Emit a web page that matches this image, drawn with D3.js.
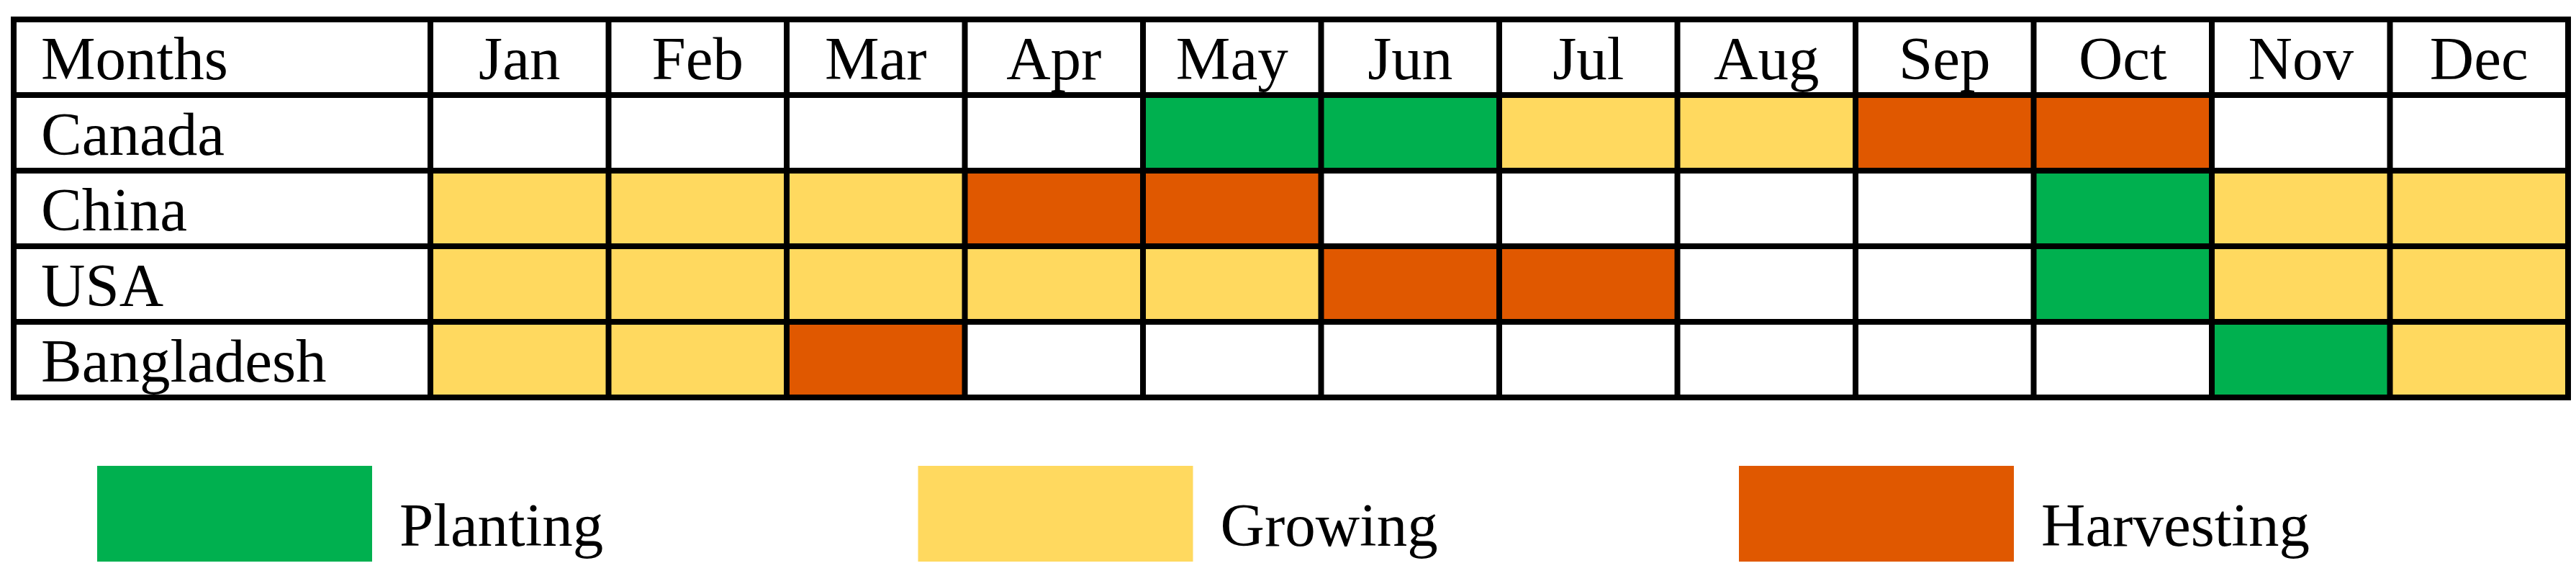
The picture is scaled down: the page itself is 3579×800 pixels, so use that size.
<!DOCTYPE html>
<html>
<head>
<meta charset="utf-8">
<script src="https://cdn.jsdelivr.net/npm/d3@7"></script>
<style>
  body { margin: 0; background: #fff; }
  text { font-family: "Liberation Serif", "DejaVu Serif", serif; }
</style>
</head>
<body>
<div id="chart"></div>
<script>
// Crop calendar data
var months = ["Jan", "Feb", "Mar", "Apr", "May", "Jun", "Jul", "Aug", "Sep", "Oct", "Nov", "Dec"];
var countries = ["Canada", "China", "USA", "Bangladesh"];
// P = planting, G = growing, H = harvesting, "" = nothing
var canada = ["", "", "", "", "P", "P", "G", "G", "H", "H", "", ""];
var china = ["G", "G", "G", "H", "H", "", "", "", "", "P", "G", "G"];
var usa = ["G", "G", "G", "G", "G", "H", "H", "", "", "P", "G", "G"];
var bangladesh = ["G", "G", "H", "", "", "", "", "", "", "", "P", "G"];
var stages = ["P", "G", "H"];
var stageNames = ["Planting", "Growing", "Harvesting"];

var rowsData = [canada, china, usa, bangladesh];
var width = 3579, height = 800;

var colors = d3.scaleOrdinal().domain(stages).range(["#00b04f", "#ffd95f", "#e05800"]);

var svg = d3.select("#chart").append("svg")
  .attr("width", width)
  .attr("height", height);

// Grid scales (note: "top" is a reserved window global, so gridTop)
var gridLeft = 19, labelRight = 598, gridRight = 3568;
var gridTop = 27, gridBottom = 552;
var x = d3.scaleBand().domain(months).range([labelRight, gridRight]);
var y = d3.scaleBand().domain(["Months"].concat(countries)).range([gridTop, gridBottom]);

// Cells
var cells = [];
countries.forEach(function(c, i) {
  months.forEach(function(m, j) {
    cells.push({country: c, month: m, stage: rowsData[i][j]});
  });
});

svg.append("g").selectAll("rect")
  .data(cells.filter(function(d) { return d.stage != ""; }))
  .enter().append("rect")
  .attr("x", function(d) { return x(d.month); })
  .attr("y", function(d) { return y(d.country); })
  .attr("width", x.bandwidth())
  .attr("height", y.bandwidth())
  .attr("fill", function(d) { return colors(d.stage); });

// Grid lines
var lines = svg.append("g").attr("stroke", "#000").attr("stroke-width", 8);
var vx = [gridLeft, labelRight].concat(months.slice(1).map(function(m) { return x(m); })).concat([gridRight]);
vx.forEach(function(v) {
  lines.append("line").attr("x1", v).attr("x2", v).attr("y1", gridTop - 4).attr("y2", gridBottom + 4);
});
var hy = y.domain().map(function(d) { return y(d); }).concat([gridBottom]);
hy.forEach(function(v) {
  lines.append("line").attr("x1", gridLeft - 4).attr("x2", gridRight + 4).attr("y1", v).attr("y2", v);
});

// Labels
var fontSize = 85;
svg.append("g").selectAll("text")
  .data(months).enter().append("text")
  .attr("x", function(d) { return x(d) + x.bandwidth() / 2; })
  .attr("y", y("Months") + y.bandwidth() / 2 + 30)
  .attr("text-anchor", "middle")
  .attr("font-size", fontSize)
  .text(function(d) { return d; });

svg.append("g").selectAll("text")
  .data(y.domain()).enter().append("text")
  .attr("x", 57)
  .attr("y", function(d) { return y(d) + y.bandwidth() / 2 + 30; })
  .attr("font-size", fontSize)
  .text(function(d) { return d; });

// Legend
var legend = svg.append("g").selectAll("g")
  .data(stages).enter().append("g")
  .attr("transform", function(d, i) { return "translate(" + (135 + i * 1140.5) + ",647)"; });
legend.append("rect")
  .attr("width", 382).attr("height", 133)
  .attr("fill", function(d) { return colors(d); });
legend.append("text")
  .attr("x", 420).attr("y", 111)
  .attr("font-size", fontSize)
  .text(function(d, i) { return stageNames[i]; });
</script>
</body>
</html>
